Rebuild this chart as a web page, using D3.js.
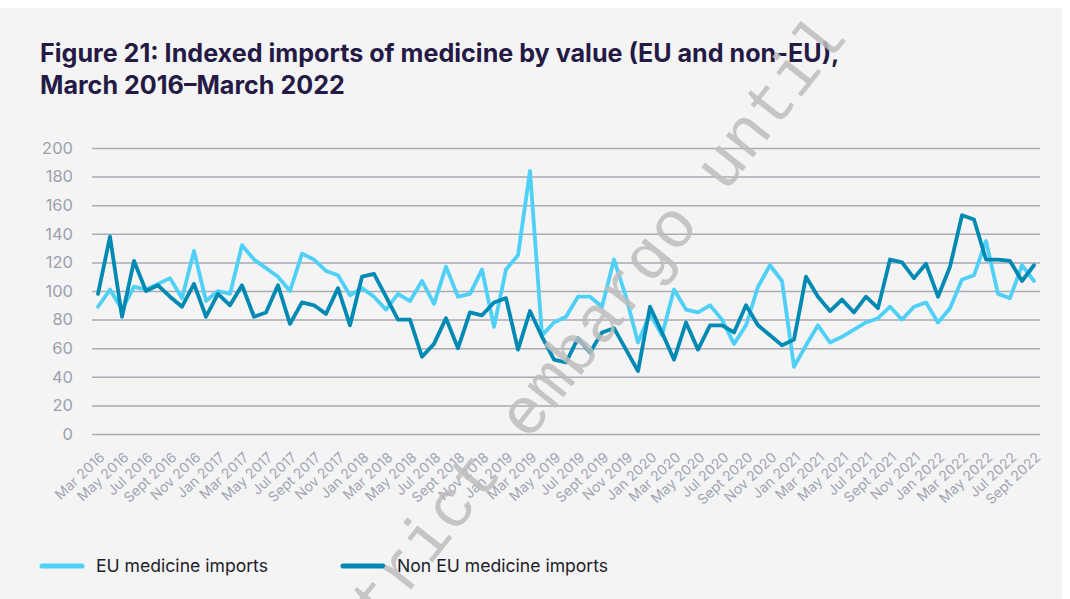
<!DOCTYPE html>
<html>
<head>
<meta charset="utf-8">
<script src="https://cdn.jsdelivr.net/npm/d3@7"></script>
<style>
  body { margin: 0; background: #ffffff; }
  svg { display: block; }
</style>
</head>
<body>
<script>

// Chart data
var months = [
  "Mar 2016","Apr 2016","May 2016","Jun 2016","Jul 2016","Aug 2016","Sept 2016","Oct 2016","Nov 2016","Dec 2016",
  "Jan 2017","Feb 2017","Mar 2017","Apr 2017","May 2017","Jun 2017","Jul 2017","Aug 2017","Sept 2017","Oct 2017","Nov 2017","Dec 2017",
  "Jan 2018","Feb 2018","Mar 2018","Apr 2018","May 2018","Jun 2018","Jul 2018","Aug 2018","Sept 2018","Oct 2018","Nov 2018","Dec 2018",
  "Jan 2019","Feb 2019","Mar 2019","Apr 2019","May 2019","Jun 2019","Jul 2019","Aug 2019","Sept 2019","Oct 2019","Nov 2019","Dec 2019",
  "Jan 2020","Feb 2020","Mar 2020","Apr 2020","May 2020","Jun 2020","Jul 2020","Aug 2020","Sept 2020","Oct 2020","Nov 2020","Dec 2020",
  "Jan 2021","Feb 2021","Mar 2021","Apr 2021","May 2021","Jun 2021","Jul 2021","Aug 2021","Sept 2021","Oct 2021","Nov 2021","Dec 2021",
  "Jan 2022","Feb 2022","Mar 2022","Apr 2022","May 2022","Jun 2022","Jul 2022","Aug 2022","Sept 2022"
];

var tickLabels = [
  "Mar 2016","May 2016","Jul 2016","Sept 2016","Nov 2016",
  "Jan 2017","Mar 2017","May 2017","Jul 2017","Sept 2017","Nov 2017",
  "Jan 2018","Mar 2018","May 2018","Jul 2018","Sept 2018","Nov 2018",
  "Jan 2019","Mar 2019","May 2019","Jul 2019","Sept 2019","Nov 2019",
  "Jan 2020","Mar 2020","May 2020","Jul 2020","Sept 2020","Nov 2020",
  "Jan 2021","Mar 2021","May 2021","Jul 2021","Sept 2021","Nov 2021",
  "Jan 2022","Mar 2022","May 2022","Jul 2022","Sept 2022"
];

var euImports = [
  89, 101, 87, 103, 101, 105, 109, 95, 128, 93,
  100, 98, 132, 122, 116, 110, 100, 126, 122, 114, 111, 97,
  102, 96, 87, 98, 93, 107, 91, 117, 96, 98, 115, 75,
  115, 125, 184, 69, 78, 82, 96, 96, 89, 122, 96, 64,
  84, 69, 101, 87, 85, 90, 80, 63, 76, 103, 118, 107,
  47, 62, 76, 64, 68, 73, 78, 81, 89, 80, 89, 92,
  78, 88, 108, 111, 135, 98, 95, 118, 107
];

var nonEuImports = [
  98, 138, 82, 121, 100, 104, 96, 89, 105, 82,
  98, 90, 104, 82, 85, 104, 77, 92, 90, 84, 102, 76,
  110, 112, 96, 80, 80, 54, 63, 81, 60, 85, 83, 92,
  95, 59, 86, 68, 52, 50, 67, 57, 71, 74, 59, 44,
  89, 71, 52, 78, 59, 76, 76, 71, 90, 76, 69, 62,
  66, 110, 96, 86, 94, 85, 96, 88, 122, 120, 109, 119,
  96, 117, 153, 150, 122, 122, 121, 107, 118
];

var yTicks = [0, 20, 40, 60, 80, 100, 120, 140, 160, 180, 200];

var seriesNames = ["EU medicine imports", "Non EU medicine imports"];
var seriesColors = ["#4fd0f6", "#0089b2"];

var svgWidth = 1070;
var svgHeight = 599;

var svg = d3.select("body")
    .append("svg")
    .attr("width", svgWidth)
    .attr("height", svgHeight);

// panel background
svg.append("rect")
    .attr("x", 0)
    .attr("y", 8)
    .attr("width", 1062)
    .attr("height", svgHeight - 8)
    .attr("fill", "#f4f4f4");

// title
var title = svg.append("text")
    .attr("font-family", "Inter, sans-serif")
    .attr("font-weight", 700)
    .attr("font-size", "24px")
    .attr("fill", "#241a45");
var titleLine1 = title.append("tspan").attr("x", 40).attr("y", 62)
    .text("Figure 21: Indexed imports of medicine by value (EU and non-EU),");
title.append("tspan").attr("x", 40).attr("y", 94)
    .text("March 2016\u2013March 2022");

// fit title width to the reference (~800px)
var tw = titleLine1.node().getComputedTextLength();
if (tw > 0) {
    title.attr("font-size", (24 * 800 / tw).toFixed(2) + "px");
}

// scales
var xScale = d3.scalePoint()
    .domain(months)
    .range([98, 1034]);

var yScale = d3.scaleLinear()
    .domain([0, 200])
    .range([434, 148]);

// y axis with gridlines
var yAxis = d3.axisLeft(yScale)
    .tickValues(yTicks)
    .tickSize(-(1040 - 92))
    .tickPadding(19);

var yAxisGroup = svg.append("g")
    .attr("transform", "translate(92, 0)")
    .call(yAxis);

yAxisGroup.select(".domain").remove();
yAxisGroup.selectAll(".tick line")
    .attr("stroke", "#a9abb5")
    .attr("stroke-width", 1.5);
yAxisGroup.selectAll(".tick text")
    .attr("font-family", "Inter, sans-serif")
    .attr("font-size", "16.5px")
    .attr("fill", "#9da0ae");

// x axis
var xAxis = d3.axisBottom(xScale)
    .tickValues(tickLabels)
    .tickSize(0);

var xAxisGroup = svg.append("g")
    .attr("transform", "translate(0, 434)")
    .call(xAxis);

xAxisGroup.select(".domain").remove();
xAxisGroup.selectAll(".tick text")
    .attr("font-family", "Inter, sans-serif")
    .attr("font-size", "14px")
    .attr("fill", "#a2a5b3")
    .attr("text-anchor", "end")
    .attr("dy", null)
    .attr("y", 0)
    .attr("transform", "translate(7, 24.5) rotate(-43)");

// lines
var line = d3.line()
    .x(function (d, i) { return xScale(months[i]); })
    .y(function (d) { return yScale(d); });

[euImports, nonEuImports].forEach(function (series, k) {
    svg.append("path")
        .datum(series)
        .attr("d", line)
        .attr("fill", "none")
        .attr("stroke", seriesColors[k])
        .attr("stroke-width", 3.8)
        .attr("stroke-linejoin", "round")
        .attr("stroke-linecap", "round");
});

// legend
var legendX = [40, 341];
seriesNames.forEach(function (name, k) {
    svg.append("line")
        .attr("x1", legendX[k] + 2)
        .attr("x2", legendX[k] + 42)
        .attr("y1", 566)
        .attr("y2", 566)
        .attr("stroke", seriesColors[k])
        .attr("stroke-width", 5)
        .attr("stroke-linecap", "round");
    svg.append("text")
        .attr("x", legendX[k] + 56)
        .attr("y", 572)
        .attr("font-family", "Inter, sans-serif")
        .attr("font-size", "17.6px")
        .attr("fill", "#1d1c2b")
        .text(name);
});

// watermark stamp
svg.append("text")
    .attr("transform", "translate(356, 659) rotate(-51.6)")
    .attr("font-family", "'Liberation Mono', monospace")
    .attr("font-size", "66px")
    .attr("fill", "#bdbdbd")
    .attr("opacity", 0.85)
    .text("strict embargo until");

</script>
</body>
</html>
